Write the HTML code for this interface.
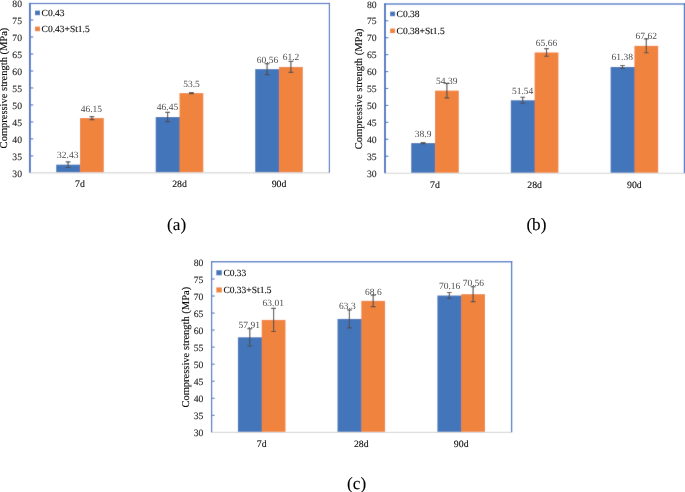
<!DOCTYPE html>
<html><head><meta charset="utf-8"><title>Compressive strength</title>
<style>
html,body{margin:0;padding:0;background:#fff;}
body{width:685px;height:492px;overflow:hidden;}
svg{display:block;font-family:'Liberation Serif', serif;text-rendering:geometricPrecision;will-change:transform;}
#wrap{width:685px;height:492px;}
text{paint-order:stroke;}
</style></head>
<body>
<div id="wrap"><svg width="685" height="492" viewBox="0 0 685 492">
<defs><filter id="bl" x="0" y="0" width="685" height="492" filterUnits="userSpaceOnUse"><feConvolveMatrix order="3" kernelMatrix="0.00810 0.07380 0.00810 0.07380 0.67240 0.07380 0.00810 0.07380 0.00810" divisor="1" edgeMode="duplicate" preserveAlpha="true"/></filter></defs>
<g filter="url(#bl)">
<rect width="685" height="492" fill="#fff"/>
<rect x="30.2" y="172.2" width="299" height="1.3" fill="#D9D9D9"/>
<rect x="56.2" y="164.65" width="24.4" height="7.55" fill="#4374B9"/>
<rect x="80" y="118.05" width="23.8" height="54.15" fill="#F0833E"/>
<rect x="155.7" y="117.04" width="24.4" height="55.16" fill="#4374B9"/>
<rect x="179.5" y="93.09" width="23.8" height="79.11" fill="#F0833E"/>
<rect x="255.2" y="69.12" width="24.4" height="103.08" fill="#4374B9"/>
<rect x="279" y="66.94" width="23.8" height="105.26" fill="#F0833E"/>
<path d="M68.1 161.8V167.5M65.7 161.8H70.5M65.7 167.5H70.5" stroke="#505050" stroke-width="1.15" fill="none"/>
<path d="M91.9 116.55V119.55M89.5 116.55H94.3M89.5 119.55H94.3" stroke="#505050" stroke-width="1.15" fill="none"/>
<path d="M167.6 112.44V121.64M165.2 112.44H170M165.2 121.64H170" stroke="#505050" stroke-width="1.15" fill="none"/>
<path d="M191.4 92.49V93.69M189 92.49H193.8M189 93.69H193.8" stroke="#505050" stroke-width="1.15" fill="none"/>
<path d="M267.1 63.62V74.62M264.7 63.62H269.5M264.7 74.62H269.5" stroke="#505050" stroke-width="1.15" fill="none"/>
<path d="M290.9 61.44V72.44M288.5 61.44H293.3M288.5 72.44H293.3" stroke="#505050" stroke-width="1.15" fill="none"/>
<rect x="28.95" y="2.9" width="1.9" height="169.8" fill="#4472C4"/>
<rect x="328.8" y="2.9" width="1.2" height="169.8" fill="#4472C4"/>
<rect x="28.95" y="2.9" width="301.05" height="1.2" fill="#4472C4"/>
<rect x="30.85" y="155.32" width="2.4" height="1.1" fill="#4472C4"/>
<rect x="30.85" y="138.34" width="2.4" height="1.1" fill="#4472C4"/>
<rect x="30.85" y="121.36" width="2.4" height="1.1" fill="#4472C4"/>
<rect x="30.85" y="104.38" width="2.4" height="1.1" fill="#4472C4"/>
<rect x="30.85" y="87.4" width="2.4" height="1.1" fill="#4472C4"/>
<rect x="30.85" y="70.42" width="2.4" height="1.1" fill="#4472C4"/>
<rect x="30.85" y="53.44" width="2.4" height="1.1" fill="#4472C4"/>
<rect x="30.85" y="36.46" width="2.4" height="1.1" fill="#4472C4"/>
<rect x="30.85" y="19.48" width="2.4" height="1.1" fill="#4472C4"/>
<rect x="35" y="10.6" width="5" height="4.6" fill="#4374B9"/>
<rect x="35" y="26.6" width="5" height="4.6" fill="#F0833E"/>
<rect x="385.2" y="172.7" width="299.1" height="1.1" fill="#D9D9D9"/>
<rect x="411.2" y="143.06" width="24.4" height="29.64" fill="#4374B9"/>
<rect x="435" y="90.62" width="23.8" height="82.08" fill="#F0833E"/>
<rect x="510.8" y="100.27" width="24.4" height="72.43" fill="#4374B9"/>
<rect x="534.6" y="52.46" width="23.8" height="120.24" fill="#F0833E"/>
<rect x="610.6" y="66.95" width="24.4" height="105.75" fill="#4374B9"/>
<rect x="634.4" y="45.82" width="23.8" height="126.88" fill="#F0833E"/>
<path d="M423.1 142.57V143.56M420.7 142.57H425.5M420.7 143.56H425.5" stroke="#505050" stroke-width="1.15" fill="none"/>
<path d="M446.9 83.34V97.89M444.5 83.34H449.3M444.5 97.89H449.3" stroke="#505050" stroke-width="1.15" fill="none"/>
<path d="M522.7 97.27V103.26M520.3 97.27H525.1M520.3 103.26H525.1" stroke="#505050" stroke-width="1.15" fill="none"/>
<path d="M546.5 48.67V56.24M544.1 48.67H548.9M544.1 56.24H548.9" stroke="#505050" stroke-width="1.15" fill="none"/>
<path d="M622.5 65.45V68.44M620.1 65.45H624.9M620.1 68.44H624.9" stroke="#505050" stroke-width="1.15" fill="none"/>
<path d="M646.3 38.94V52.7M643.9 38.94H648.7M643.9 52.7H648.7" stroke="#505050" stroke-width="1.15" fill="none"/>
<rect x="384.05" y="3.35" width="1.9" height="169.85" fill="#4472C4"/>
<rect x="683.8" y="3.35" width="1.4" height="169.85" fill="#4472C4"/>
<rect x="384.05" y="3.35" width="301.15" height="1.3" fill="#4472C4"/>
<rect x="385.95" y="155.67" width="2.4" height="1.1" fill="#4472C4"/>
<rect x="385.95" y="138.74" width="2.4" height="1.1" fill="#4472C4"/>
<rect x="385.95" y="121.81" width="2.4" height="1.1" fill="#4472C4"/>
<rect x="385.95" y="104.88" width="2.4" height="1.1" fill="#4472C4"/>
<rect x="385.95" y="87.95" width="2.4" height="1.1" fill="#4472C4"/>
<rect x="385.95" y="71.02" width="2.4" height="1.1" fill="#4472C4"/>
<rect x="385.95" y="54.09" width="2.4" height="1.1" fill="#4472C4"/>
<rect x="385.95" y="37.16" width="2.4" height="1.1" fill="#4472C4"/>
<rect x="385.95" y="20.23" width="2.4" height="1.1" fill="#4472C4"/>
<rect x="390.1" y="11.6" width="5" height="4.6" fill="#4374B9"/>
<rect x="390.1" y="28.5" width="5" height="4.6" fill="#F0833E"/>
<rect x="211.9" y="431.8" width="299.2" height="1.2" fill="#D9D9D9"/>
<rect x="237.9" y="337.28" width="24.4" height="94.52" fill="#4374B9"/>
<rect x="261.7" y="319.9" width="23.8" height="111.9" fill="#F0833E"/>
<rect x="337.5" y="318.91" width="24.4" height="112.89" fill="#4374B9"/>
<rect x="361.3" y="300.85" width="23.8" height="130.95" fill="#F0833E"/>
<rect x="437.4" y="295.53" width="24.4" height="136.27" fill="#4374B9"/>
<rect x="461.2" y="294.17" width="23.8" height="137.63" fill="#F0833E"/>
<path d="M249.8 328.55V346.01M247.4 328.55H252.2M247.4 346.01H252.2" stroke="#505050" stroke-width="1.15" fill="none"/>
<path d="M273.6 308.33V331.47M271.2 308.33H276M271.2 331.47H276" stroke="#505050" stroke-width="1.15" fill="none"/>
<path d="M349.4 309.93V327.89M347 309.93H351.8M347 327.89H351.8" stroke="#505050" stroke-width="1.15" fill="none"/>
<path d="M373.2 295.06V306.64M370.8 295.06H375.6M370.8 306.64H375.6" stroke="#505050" stroke-width="1.15" fill="none"/>
<path d="M449.3 292.54V298.53M446.9 292.54H451.7M446.9 298.53H451.7" stroke="#505050" stroke-width="1.15" fill="none"/>
<path d="M473.1 286.69V301.65M470.7 286.69H475.5M470.7 301.65H475.5" stroke="#505050" stroke-width="1.15" fill="none"/>
<rect x="210.97" y="261.1" width="1.25" height="171.2" fill="#4472C4"/>
<rect x="510.95" y="261.1" width="1.3" height="171.2" fill="#4472C4"/>
<rect x="210.97" y="261.1" width="301.27" height="1.3" fill="#4472C4"/>
<rect x="212.22" y="414.76" width="2.4" height="1.1" fill="#4472C4"/>
<rect x="212.22" y="397.72" width="2.4" height="1.1" fill="#4472C4"/>
<rect x="212.22" y="380.68" width="2.4" height="1.1" fill="#4472C4"/>
<rect x="212.22" y="363.64" width="2.4" height="1.1" fill="#4472C4"/>
<rect x="212.22" y="346.6" width="2.4" height="1.1" fill="#4472C4"/>
<rect x="212.22" y="329.56" width="2.4" height="1.1" fill="#4472C4"/>
<rect x="212.22" y="312.52" width="2.4" height="1.1" fill="#4472C4"/>
<rect x="212.22" y="295.48" width="2.4" height="1.1" fill="#4472C4"/>
<rect x="212.22" y="278.44" width="2.4" height="1.1" fill="#4472C4"/>
<rect x="216.3" y="270.2" width="5.5" height="5.1" fill="#4374B9"/>
<rect x="216.3" y="287.4" width="5.5" height="5.1" fill="#F0833E"/>
</g>
<g filter="none">
<text x="22" y="176.55" text-anchor="end" font-size="9.7" fill="#262626" stroke="#262626" stroke-width="0.12">30</text>
<text x="22" y="159.57" text-anchor="end" font-size="9.7" fill="#262626" stroke="#262626" stroke-width="0.12">35</text>
<text x="22" y="142.59" text-anchor="end" font-size="9.7" fill="#262626" stroke="#262626" stroke-width="0.12">40</text>
<text x="22" y="125.61" text-anchor="end" font-size="9.7" fill="#262626" stroke="#262626" stroke-width="0.12">45</text>
<text x="22" y="108.63" text-anchor="end" font-size="9.7" fill="#262626" stroke="#262626" stroke-width="0.12">50</text>
<text x="22" y="91.65" text-anchor="end" font-size="9.7" fill="#262626" stroke="#262626" stroke-width="0.12">55</text>
<text x="22" y="74.67" text-anchor="end" font-size="9.7" fill="#262626" stroke="#262626" stroke-width="0.12">60</text>
<text x="22" y="57.69" text-anchor="end" font-size="9.7" fill="#262626" stroke="#262626" stroke-width="0.12">65</text>
<text x="22" y="40.71" text-anchor="end" font-size="9.7" fill="#262626" stroke="#262626" stroke-width="0.12">70</text>
<text x="22" y="23.73" text-anchor="end" font-size="9.7" fill="#262626" stroke="#262626" stroke-width="0.12">75</text>
<text x="22" y="6.75" text-anchor="end" font-size="9.7" fill="#262626" stroke="#262626" stroke-width="0.12">80</text>
<text x="67.7" y="158" text-anchor="middle" font-size="9.5" fill="#4d4d4d" stroke="#4d4d4d" stroke-width="0">32.43</text>
<text x="91.4" y="111.9" text-anchor="middle" font-size="9.5" fill="#4d4d4d" stroke="#4d4d4d" stroke-width="0">46.15</text>
<text x="167.5" y="110.1" text-anchor="middle" font-size="9.5" fill="#4d4d4d" stroke="#4d4d4d" stroke-width="0">46.45</text>
<text x="191.5" y="86.7" text-anchor="middle" font-size="9.5" fill="#4d4d4d" stroke="#4d4d4d" stroke-width="0">53.5</text>
<text x="267.5" y="63" text-anchor="middle" font-size="9.5" fill="#4d4d4d" stroke="#4d4d4d" stroke-width="0">60.56</text>
<text x="291" y="60.3" text-anchor="middle" font-size="9.5" fill="#4d4d4d" stroke="#4d4d4d" stroke-width="0">61.2</text>
<text x="80" y="187.4" text-anchor="middle" font-size="9.8" fill="#0d0d0d" stroke="#0d0d0d" stroke-width="0.12">7d</text>
<text x="179.5" y="187.4" text-anchor="middle" font-size="9.8" fill="#0d0d0d" stroke="#0d0d0d" stroke-width="0.12">28d</text>
<text x="279" y="187.4" text-anchor="middle" font-size="9.8" fill="#0d0d0d" stroke="#0d0d0d" stroke-width="0.12">90d</text>
<text x="41.6" y="15.6" font-size="9.5" fill="#0d0d0d" stroke="#0d0d0d" stroke-width="0.12">C0.43</text>
<text x="41.6" y="31.6" font-size="9.5" fill="#0d0d0d" stroke="#0d0d0d" stroke-width="0.12">C0.43+St1.5</text>
<text transform="translate(7 88) rotate(-90)" x="0" y="0" text-anchor="middle" font-size="10.5" fill="#0d0d0d" stroke="#0d0d0d" stroke-width="0.12">Compressive strength (MPa)</text>
<text x="176.6" y="229.8" text-anchor="middle" font-size="17.2" fill="#000" stroke="#000" stroke-width="0.12">(a)</text>
<text x="376.6" y="176.85" text-anchor="end" font-size="9.7" fill="#262626" stroke="#262626" stroke-width="0.12">30</text>
<text x="376.6" y="159.92" text-anchor="end" font-size="9.7" fill="#262626" stroke="#262626" stroke-width="0.12">35</text>
<text x="376.6" y="142.99" text-anchor="end" font-size="9.7" fill="#262626" stroke="#262626" stroke-width="0.12">40</text>
<text x="376.6" y="126.06" text-anchor="end" font-size="9.7" fill="#262626" stroke="#262626" stroke-width="0.12">45</text>
<text x="376.6" y="109.13" text-anchor="end" font-size="9.7" fill="#262626" stroke="#262626" stroke-width="0.12">50</text>
<text x="376.6" y="92.2" text-anchor="end" font-size="9.7" fill="#262626" stroke="#262626" stroke-width="0.12">55</text>
<text x="376.6" y="75.27" text-anchor="end" font-size="9.7" fill="#262626" stroke="#262626" stroke-width="0.12">60</text>
<text x="376.6" y="58.34" text-anchor="end" font-size="9.7" fill="#262626" stroke="#262626" stroke-width="0.12">65</text>
<text x="376.6" y="41.41" text-anchor="end" font-size="9.7" fill="#262626" stroke="#262626" stroke-width="0.12">70</text>
<text x="376.6" y="24.48" text-anchor="end" font-size="9.7" fill="#262626" stroke="#262626" stroke-width="0.12">75</text>
<text x="376.6" y="7.55" text-anchor="end" font-size="9.7" fill="#262626" stroke="#262626" stroke-width="0.12">80</text>
<text x="423.1" y="137.2" text-anchor="middle" font-size="9.5" fill="#4d4d4d" stroke="#4d4d4d" stroke-width="0">38.9</text>
<text x="446.8" y="83.8" text-anchor="middle" font-size="9.5" fill="#4d4d4d" stroke="#4d4d4d" stroke-width="0">54.39</text>
<text x="522.6" y="94" text-anchor="middle" font-size="9.5" fill="#4d4d4d" stroke="#4d4d4d" stroke-width="0">51.54</text>
<text x="546.5" y="45.7" text-anchor="middle" font-size="9.5" fill="#4d4d4d" stroke="#4d4d4d" stroke-width="0">65.66</text>
<text x="622.3" y="60.1" text-anchor="middle" font-size="9.5" fill="#4d4d4d" stroke="#4d4d4d" stroke-width="0">61.38</text>
<text x="646.3" y="38.7" text-anchor="middle" font-size="9.5" fill="#4d4d4d" stroke="#4d4d4d" stroke-width="0">67.62</text>
<text x="435" y="187.9" text-anchor="middle" font-size="9.8" fill="#0d0d0d" stroke="#0d0d0d" stroke-width="0.12">7d</text>
<text x="534.6" y="187.9" text-anchor="middle" font-size="9.8" fill="#0d0d0d" stroke="#0d0d0d" stroke-width="0.12">28d</text>
<text x="634.4" y="187.9" text-anchor="middle" font-size="9.8" fill="#0d0d0d" stroke="#0d0d0d" stroke-width="0.12">90d</text>
<text x="396.6" y="16.7" font-size="9.5" fill="#0d0d0d" stroke="#0d0d0d" stroke-width="0.12">C0.38</text>
<text x="396.6" y="33.8" font-size="9.5" fill="#0d0d0d" stroke="#0d0d0d" stroke-width="0.12">C0.38+St1.5</text>
<text transform="translate(362.1 88.8) rotate(-90)" x="0" y="0" text-anchor="middle" font-size="10.5" fill="#0d0d0d" stroke="#0d0d0d" stroke-width="0.12">Compressive strength (MPa)</text>
<text x="536.4" y="229.8" text-anchor="middle" font-size="17.2" fill="#000" stroke="#000" stroke-width="0.12">(b)</text>
<text x="203.4" y="436.05" text-anchor="end" font-size="9.7" fill="#262626" stroke="#262626" stroke-width="0.12">30</text>
<text x="203.4" y="419.01" text-anchor="end" font-size="9.7" fill="#262626" stroke="#262626" stroke-width="0.12">35</text>
<text x="203.4" y="401.97" text-anchor="end" font-size="9.7" fill="#262626" stroke="#262626" stroke-width="0.12">40</text>
<text x="203.4" y="384.93" text-anchor="end" font-size="9.7" fill="#262626" stroke="#262626" stroke-width="0.12">45</text>
<text x="203.4" y="367.89" text-anchor="end" font-size="9.7" fill="#262626" stroke="#262626" stroke-width="0.12">50</text>
<text x="203.4" y="350.85" text-anchor="end" font-size="9.7" fill="#262626" stroke="#262626" stroke-width="0.12">55</text>
<text x="203.4" y="333.81" text-anchor="end" font-size="9.7" fill="#262626" stroke="#262626" stroke-width="0.12">60</text>
<text x="203.4" y="316.77" text-anchor="end" font-size="9.7" fill="#262626" stroke="#262626" stroke-width="0.12">65</text>
<text x="203.4" y="299.73" text-anchor="end" font-size="9.7" fill="#262626" stroke="#262626" stroke-width="0.12">70</text>
<text x="203.4" y="282.69" text-anchor="end" font-size="9.7" fill="#262626" stroke="#262626" stroke-width="0.12">75</text>
<text x="203.4" y="265.65" text-anchor="end" font-size="9.7" fill="#262626" stroke="#262626" stroke-width="0.12">80</text>
<text x="249.3" y="327.8" text-anchor="middle" font-size="9.5" fill="#4d4d4d" stroke="#4d4d4d" stroke-width="0">57.91</text>
<text x="273.2" y="306.2" text-anchor="middle" font-size="9.5" fill="#4d4d4d" stroke="#4d4d4d" stroke-width="0">63.01</text>
<text x="347.4" y="308.7" text-anchor="middle" font-size="9.5" fill="#4d4d4d" stroke="#4d4d4d" stroke-width="0">63.3</text>
<text x="373.4" y="294.9" text-anchor="middle" font-size="9.5" fill="#4d4d4d" stroke="#4d4d4d" stroke-width="0">68.6</text>
<text x="449.6" y="289.1" text-anchor="middle" font-size="9.5" fill="#4d4d4d" stroke="#4d4d4d" stroke-width="0">70.16</text>
<text x="473.4" y="285.5" text-anchor="middle" font-size="9.5" fill="#4d4d4d" stroke="#4d4d4d" stroke-width="0">70.56</text>
<text x="261.7" y="446.6" text-anchor="middle" font-size="9.8" fill="#0d0d0d" stroke="#0d0d0d" stroke-width="0.12">7d</text>
<text x="361.3" y="446.6" text-anchor="middle" font-size="9.8" fill="#0d0d0d" stroke="#0d0d0d" stroke-width="0.12">28d</text>
<text x="461.2" y="446.6" text-anchor="middle" font-size="9.8" fill="#0d0d0d" stroke="#0d0d0d" stroke-width="0.12">90d</text>
<text x="223.4" y="275.5" font-size="9.5" fill="#0d0d0d" stroke="#0d0d0d" stroke-width="0.12">C0.33</text>
<text x="223.4" y="292.7" font-size="9.5" fill="#0d0d0d" stroke="#0d0d0d" stroke-width="0.12">C0.33+St1.5</text>
<text transform="translate(188.8 347.2) rotate(-90)" x="0" y="0" text-anchor="middle" font-size="10.5" fill="#0d0d0d" stroke="#0d0d0d" stroke-width="0.12">Compressive strength (MPa)</text>
<text x="356.6" y="488.6" text-anchor="middle" font-size="17.2" fill="#000" stroke="#000" stroke-width="0.12">(c)</text>
</g>
</svg></div>
</body></html>
